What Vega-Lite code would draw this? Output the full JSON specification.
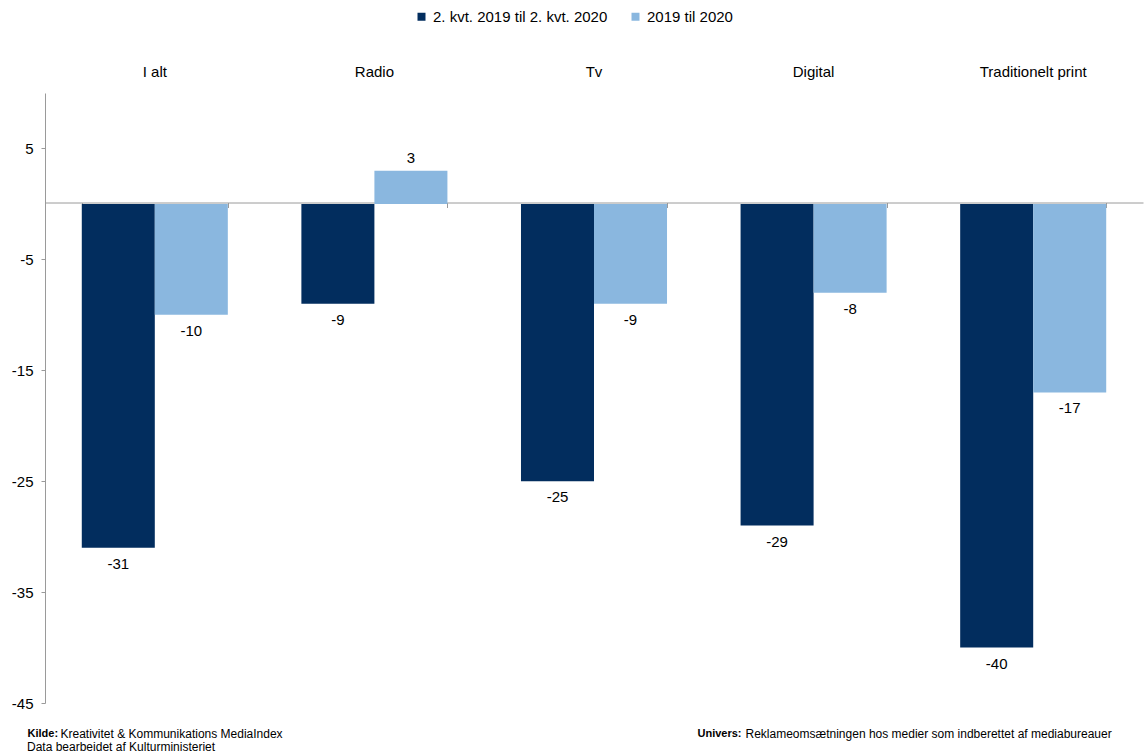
{
  "$schema": "https://vega.github.io/schema/vega-lite/v6.json",
  "width": 1098,
  "height": 610,
  "autosize": {"type": "none"},
  "padding": {"left": 45, "top": 93, "right": 1, "bottom": 50},
  "background": "white",
  "config": {
    "view": {"stroke": null},
    "font": "Liberation Sans",
    "axis": {"labelFont": "Liberation Sans", "titleFont": "Liberation Sans", "labelColor": "#000", "titleColor": "#000"},
    "legend": {"labelFont": "Liberation Sans"}
  },
  "title": {
    "text": "Data bearbeidet af Kulturministeriet",
    "orient": "bottom",
    "anchor": "start",
    "frame": "group",
    "fontSize": 12,
    "fontWeight": "normal",
    "color": "#000",
    "dx": -18,
    "offset": 3
  },
  "data": {
    "values": [
      {"Kategori": "I alt", "Periode": "2. kvt. 2019 til 2. kvt. 2020", "Vaerdi": -31},
      {"Kategori": "I alt", "Periode": "2019 til 2020", "Vaerdi": -10},
      {"Kategori": "Radio", "Periode": "2. kvt. 2019 til 2. kvt. 2020", "Vaerdi": -9},
      {"Kategori": "Radio", "Periode": "2019 til 2020", "Vaerdi": 3},
      {"Kategori": "Tv", "Periode": "2. kvt. 2019 til 2. kvt. 2020", "Vaerdi": -25},
      {"Kategori": "Tv", "Periode": "2019 til 2020", "Vaerdi": -9},
      {"Kategori": "Digital", "Periode": "2. kvt. 2019 til 2. kvt. 2020", "Vaerdi": -29},
      {"Kategori": "Digital", "Periode": "2019 til 2020", "Vaerdi": -8},
      {"Kategori": "Traditionelt print", "Periode": "2. kvt. 2019 til 2. kvt. 2020", "Vaerdi": -40},
      {"Kategori": "Traditionelt print", "Periode": "2019 til 2020", "Vaerdi": -17}
    ]
  },
  "encoding": {
    "x": {
      "field": "Kategori",
      "type": "nominal",
      "sort": ["I alt", "Radio", "Tv", "Digital", "Traditionelt print"],
      "scale": {"paddingInner": 0.335, "paddingOuter": 0.1675}
    },
    "xOffset": {
      "field": "Periode",
      "type": "nominal",
      "sort": ["2. kvt. 2019 til 2. kvt. 2020", "2019 til 2020"]
    },
    "y": {
      "field": "Vaerdi",
      "type": "quantitative",
      "scale": {"domain": [-45, 10], "nice": false}
    }
  },
  "layer": [
    {
      "mark": {"type": "bar"},
      "encoding": {
        "x": {
          "field": "Kategori",
          "type": "nominal",
          "sort": ["I alt", "Radio", "Tv", "Digital", "Traditionelt print"],
          "scale": {"paddingInner": 0.335, "paddingOuter": 0.1675},
          "axis": {
            "orient": "top",
            "domain": false,
            "ticks": false,
            "labelAngle": 0,
            "labelFontSize": 15,
            "labelPadding": 14,
            "title": "Kreativitet & Kommunikations MediaIndex",
            "titleX": 15,
            "titleY": 640,
            "titleAngle": 0,
            "titleAlign": "left",
            "titleBaseline": "middle",
            "titleFontSize": 12,
            "titleFontWeight": "normal"
          }
        },
        "y": {
          "field": "Vaerdi",
          "type": "quantitative",
          "scale": {"domain": [-45, 10], "nice": false},
          "axis": {
            "values": [5, -5, -15, -25, -35, -45],
            "labelExpr": "datum.value + ''",
            "grid": false,
            "domainColor": "#9a9a9a",
            "tickColor": "#9a9a9a",
            "tickSize": 4,
            "labelPadding": 8,
            "labelFontSize": 15,
            "title": "Kilde:",
            "titleX": -18,
            "titleY": 640,
            "titleAngle": 0,
            "titleAlign": "left",
            "titleBaseline": "middle",
            "titleFontSize": 11,
            "titleFontWeight": "bold"
          }
        },
        "color": {
          "field": "Periode",
          "type": "nominal",
          "sort": ["2. kvt. 2019 til 2. kvt. 2020", "2019 til 2020"],
          "scale": {"domain": ["2. kvt. 2019 til 2. kvt. 2020", "2019 til 2020"], "range": ["#022d5e", "#8ab7df"]},
          "legend": {
            "orient": "none",
            "legendX": 369,
            "legendY": -84,
            "direction": "horizontal",
            "title": null,
            "symbolType": "square",
            "symbolSize": 64,
            "symbolStrokeWidth": 0,
            "labelFontSize": 15,
            "labelColor": "#000",
            "labelLimit": 0,
            "columnPadding": 20,
            "labelOffset": 4,
            "padding": 0
          }
        }
      }
    },
    {
      "transform": [{"filter": "datum.Vaerdi >= 0"}],
      "mark": {"type": "text", "dy": -13, "fontSize": 15, "color": "#000", "baseline": "middle"},
      "encoding": {
        "text": {"field": "Vaerdi", "type": "nominal"},
        "x": {
          "field": "Kategori",
          "type": "nominal",
          "sort": ["I alt", "Radio", "Tv", "Digital", "Traditionelt print"],
          "scale": {"paddingInner": 0.335, "paddingOuter": 0.1675},
          "axis": {
            "orient": "bottom",
            "offset": -500.5,
            "labels": false,
            "domain": true,
            "domainColor": "#9a9a9a",
            "ticks": true,
            "tickColor": "#9a9a9a",
            "tickBand": "extent",
            "tickSize": 5,
            "title": "Reklameomsætningen hos medier som indberettet af mediabureauer",
            "titleX": 700,
            "titleY": 530.5,
            "titleAngle": 0,
            "titleAlign": "left",
            "titleBaseline": "middle",
            "titleFontSize": 12,
            "titleFontWeight": "normal"
          }
        },
        "y": {
          "field": "Vaerdi",
          "type": "quantitative",
          "scale": {"domain": [-45, 10], "nice": false},
          "axis": {
            "orient": "right",
            "domain": false,
            "ticks": false,
            "labels": false,
            "grid": false,
            "title": "Univers:",
            "titleX": -446,
            "titleY": 640,
            "titleAngle": 0,
            "titleAlign": "left",
            "titleBaseline": "middle",
            "titleFontSize": 11,
            "titleFontWeight": "bold"
          }
        }
      }
    },
    {
      "transform": [{"filter": "datum.Vaerdi < 0"}],
      "mark": {"type": "text", "dy": 16, "fontSize": 15, "color": "#000", "baseline": "middle"},
      "encoding": {
        "text": {"field": "Vaerdi", "type": "nominal"},
        "x": {
          "field": "Kategori",
          "type": "nominal",
          "sort": ["I alt", "Radio", "Tv", "Digital", "Traditionelt print"],
          "scale": {"paddingInner": 0.335, "paddingOuter": 0.1675},
          "axis": null
        },
        "y": {
          "field": "Vaerdi",
          "type": "quantitative",
          "scale": {"domain": [-45, 10], "nice": false},
          "axis": null
        }
      }
    }
  ],
  "resolve": {"axis": {"x": "independent", "y": "independent"}}
}
